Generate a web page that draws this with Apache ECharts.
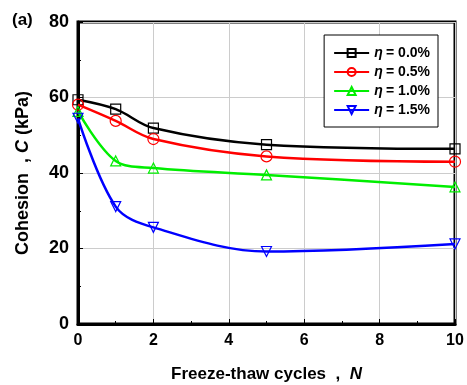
<!DOCTYPE html>
<html>
<head>
<meta charset="utf-8">
<script src="https://cdn.jsdelivr.net/npm/echarts@6/dist/echarts.min.js"></script>
<style>
  html, body { margin: 0; padding: 0; background: #fff; }
  #chart { width: 467px; height: 385px; }
</style>
</head>
<body>
<div id="chart"></div>
<script>
// freeze-thaw cycles
const cycles = [0, 1, 2, 5, 10];
const seriesNames = ['0.0%', '0.5%', '1.0%', '1.5%'];
const cohesion00 = [59.4, 56.9, 51.9, 47.5, 46.4];
const cohesion05 = [58.1, 53.8, 49.0, 44.4, 43.0];
const cohesion10 = [56.3, 43.2, 41.3, 39.5, 36.3];
const cohesion15 = [54.5, 31.1, 25.6, 19.2, 21.2];

const colors = ['#000000', '#ff0000', '#00ee00', '#0000ff'];
const symbols = ['rect', 'circle', 'triangle', 'triangle'];
const rotations = [0, 0, 0, 180];
const allValues = [cohesion00, cohesion05, cohesion10, cohesion15];

const font = 'Liberation Sans, Arial, sans-serif';
const chart = echarts.init(document.getElementById('chart'), null, { renderer: 'canvas' });

const series = allValues.map((vals, i) => ({
  name: seriesNames[i],
  type: 'line',
  smooth: 0.35,
  data: cycles.map((c, j) => [c, vals[j]]),
  symbol: symbols[i],
  symbolRotate: rotations[i],
  symbolSize: i === 1 ? 11 : 10,
  showAllSymbol: true,
  color: colors[i],
  lineStyle: { color: colors[i], width: 2.5 },
  itemStyle: { color: 'rgba(255,255,255,0)', borderColor: colors[i], borderWidth: 1.2 },
  z: 3 + i,
}));

const richFor = (size) => ({
  a: { fontSize: size, fontWeight: 'bold', fontFamily: font, color: '#000' },
  b: { fontSize: size, fontWeight: 'bold', fontStyle: 'italic', fontFamily: font, color: '#000' },
});

chart.setOption({
  animation: false,
  textStyle: { fontFamily: font },
  title: {
    text: '(a)',
    left: 7,
    top: 7,
    textStyle: { fontSize: 17, fontWeight: 'bold', color: '#000', fontFamily: font },
  },
  grid: {
    left: 78, right: 12, top: 22, bottom: 61,
    outerBoundsMode: 'none',
    show: true, borderColor: '#000', borderWidth: 3, backgroundColor: 'transparent',
  },
  legend: {
    right: 29,
    top: 35,
    orient: 'vertical',
    itemWidth: 35,
    itemHeight: 10,
    itemGap: 5,
    padding: [11, 8, 10, 9],
    borderColor: '#000',
    borderWidth: 1,
    backgroundColor: '#fff',
    data: seriesNames,
    formatter: (n) => '{e|η} {t|= ' + n + '}',
    textStyle: {
      rich: {
        e: { fontSize: 14, fontWeight: 'bold', fontStyle: 'italic', fontFamily: font, color: '#000' },
        t: { fontSize: 14, fontWeight: 'bold', fontFamily: font, color: '#000' },
      },
    },
  },
  xAxis: {
    type: 'value',
    min: 0, max: 10, interval: 2,
    name: '{a|Freeze-thaw cycles  ,  }{b|N}',
    nameLocation: 'middle',
    nameGap: 42,
    nameTextStyle: { rich: richFor(17) },
    axisLine: { lineStyle: { color: '#000', width: 3 } },
    axisTick: { inside: true, length: 5, lineStyle: { color: '#000', width: 1 } },
    minorTick: { show: true, splitNumber: 2, length: 3, lineStyle: { color: '#000' } },
    splitLine: { show: true, lineStyle: { color: '#cccccc', width: 1 } },
    axisLabel: { fontSize: 16, fontWeight: 'bold', color: '#000', margin: 9, fontFamily: font },
  },
  yAxis: {
    type: 'value',
    min: 0, max: 80, interval: 20,
    name: '{a|Cohesion  , }{b|C}{a| (kPa)}',
    nameLocation: 'middle',
    nameGap: 46,
    nameTextStyle: { rich: richFor(18) },
    axisLine: { lineStyle: { color: '#000', width: 3 } },
    axisTick: { inside: true, length: 5, lineStyle: { color: '#000', width: 1 } },
    minorTick: { show: true, splitNumber: 2, length: 3, lineStyle: { color: '#000' } },
    splitLine: { show: true, lineStyle: { color: '#cccccc', width: 1 } },
    axisLabel: { fontSize: 18, fontWeight: 'bold', color: '#000', margin: 9, fontFamily: font },
  },
  series: series,
});
</script>
</body>
</html>
